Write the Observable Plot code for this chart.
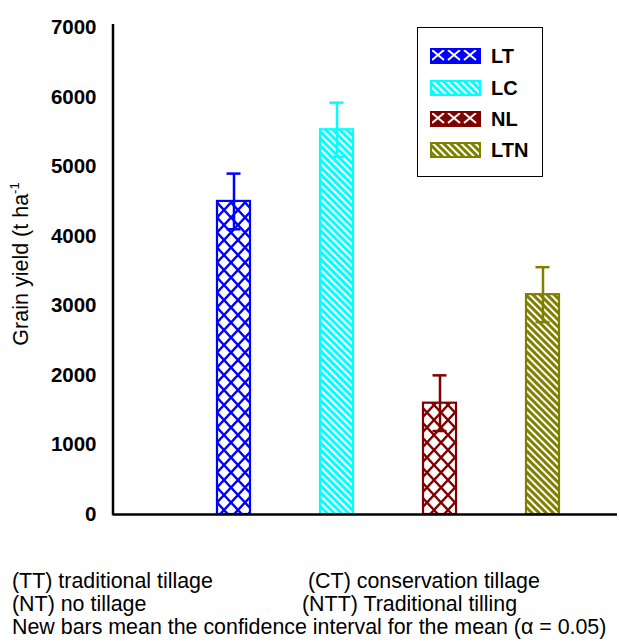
<!DOCTYPE html>
<html>
<head>
<meta charset="utf-8">
<script src="https://cdn.jsdelivr.net/npm/d3@7"></script>
<script src="https://cdn.jsdelivr.net/npm/@observablehq/plot@0.6"></script>
<style>
  body { margin: 0; background: #fff; font-family: "Liberation Sans", Arial, sans-serif; }
  #wrap { position: relative; width: 619px; height: 643px; }
  #legend { position: absolute; left: 417px; top: 27px; width: 124px; height: 148px; border: 1.5px solid #000; background: #fff; }
  .item { position: absolute; left: 12px; height: 16px; }
  .item svg { position: absolute; left: 0; top: 0; }
  .item span { position: absolute; left: 61px; top: -4px; font-size: 20px; font-weight: bold; line-height: 24px; color: #000; white-space: nowrap; }
  .cap { position: absolute; font-size: 21.4px; line-height: 23px; color: #000; white-space: nowrap; }
</style>
</head>
<body>
<svg width="0" height="0" style="position:absolute">
  <defs>
    <pattern id="pLT" width="14" height="15" patternUnits="userSpaceOnUse">
      <rect width="14" height="15" fill="#fff"/>
      <path d="M-2,-2.14L16,17.14M16,-2.14L-2,17.14" stroke="#0000ff" stroke-width="2.4"/>
    </pattern>
    <pattern id="pNL" width="14" height="15" patternUnits="userSpaceOnUse">
      <rect width="14" height="15" fill="#fff"/>
      <path d="M-2,-2.14L16,17.14M16,-2.14L-2,17.14" stroke="#800000" stroke-width="2.4"/>
    </pattern>
    <pattern id="pLC" width="5" height="5" patternUnits="userSpaceOnUse" patternTransform="rotate(45)">
      <rect width="5" height="5" fill="#fff"/>
      <rect width="5" height="3" fill="#00ffff"/>
    </pattern>
    <pattern id="pLTN" width="5" height="5" patternUnits="userSpaceOnUse" patternTransform="rotate(45)">
      <rect width="5" height="5" fill="#fff"/>
      <rect width="5" height="3" fill="#808000"/>
    </pattern>
    <pattern id="sLT" width="16" height="14" patternUnits="userSpaceOnUse">
      <rect width="16" height="14" fill="#0000ff"/>
      <path d="M2,2L14,12M14,2L2,12" stroke="#fff" stroke-width="2"/>
    </pattern>
    <pattern id="sNL" width="16" height="14" patternUnits="userSpaceOnUse">
      <rect width="16" height="14" fill="#800000"/>
      <path d="M2,2L14,12M14,2L2,12" stroke="#fff" stroke-width="2"/>
    </pattern>
  </defs>
</svg>
<div id="wrap">
  <div id="chart"></div>
  <div id="legend"></div>
  <div class="cap" style="left:12px;top:570px">(TT) traditional tillage</div>
  <div class="cap" style="left:308px;top:570px">(CT) conservation tillage</div>
  <div class="cap" style="left:12px;top:593px">(NT) no tillage</div>
  <div class="cap" style="left:302px;top:593px">(NTT) Traditional tilling</div>
  <div class="cap" style="left:12px;top:616px">New bars mean the confidence interval for the mean (α = 0.05)</div>
</div>
<script>
const categories = ["LT", "LC", "NL", "LTN"];
const yields = [4500, 5530, 1600, 3160];
const ciHalf = [400, 390, 400, 395];
const colors = ["#0000ff", "#00ffff", "#800000", "#808000"];
const fills = ["url(#pLT)", "url(#pLC)", "url(#pNL)", "url(#pLTN)"];
const swatches = ["url(#sLT)", "url(#pLC)", "url(#sNL)", "url(#pLTN)"];
const yTicks = [0, 1000, 2000, 3000, 4000, 5000, 6000, 7000];

const data = categories.map((c, i) => ({
  name: c, value: yields[i], lo: yields[i] - ciHalf[i], hi: yields[i] + ciHalf[i],
  color: colors[i], fill: fills[i]
}));

const chart = Plot.plot({
  width: 619,
  height: 540,
  marginLeft: 113,
  marginRight: 2,
  marginTop: 27,
  marginBottom: 26,
  style: { fontFamily: "'Liberation Sans', Arial, sans-serif", fontSize: "20.5px", fontWeight: "bold", color: "#000", background: "#fff" },
  x: { domain: categories, axis: null, paddingInner: 0.683, paddingOuter: 0.774, align: 0.643 },
  y: { domain: [0, 7000], ticks: yTicks, label: null },
  color: { type: "identity" },
  marks: [
    Plot.barY(data, { x: "name", y: "value", fill: "fill", stroke: "color", strokeWidth: 2.2 }),
    Plot.ruleX(data, { x: "name", y1: "lo", y2: "hi", stroke: "color", strokeWidth: 2.5 }),
    Plot.tickY(data, { x: "name", y: "hi", stroke: "color", strokeWidth: 2.5, inset: 9.5 }),
    Plot.tickY(data, { x: "name", y: "lo", stroke: "color", strokeWidth: 2.5, inset: 9.5 }),
    Plot.axisY({ ticks: yTicks, tickSize: 0, tickPadding: 17, tickFormat: d => String(d), label: null, fontWeight: "bold" }),
    Plot.ruleY([0], { stroke: "#000", strokeWidth: 2.5 })
  ]
});
document.getElementById("chart").appendChild(chart);

// y axis line and rotated label
const svg = d3.select(chart);
const y = chart.scale("y");
svg.append("line")
  .attr("x1", 113).attr("x2", 113)
  .attr("y1", y.apply(7000) - 3).attr("y2", y.apply(0) + 1.25)
  .attr("stroke", "#000").attr("stroke-width", 2.5);
const lab = svg.append("text")
  .attr("transform", `translate(27.5,264) rotate(-90)`)
  .attr("text-anchor", "middle")
  .attr("font-size", 21.5).attr("font-weight", "normal").attr("fill", "#000");
lab.append("tspan").text("Grain yield (t ha");
lab.append("tspan").attr("font-size", 13).attr("dy", -9).text("-1");

// legend
const legend = d3.select("#legend");
const tops = [20, 52, 83, 114];
categories.forEach((c, i) => {
  const it = legend.append("div").attr("class", "item").style("top", tops[i] + "px");
  const s = it.append("svg").attr("width", 52).attr("height", 17);
  s.append("rect").attr("x", 1).attr("y", 1).attr("width", 49).attr("height", 14)
    .attr("fill", swatches[i]).attr("stroke", colors[i]).attr("stroke-width", 2);
  it.append("span").text(c);
});
</script>
</body>
</html>
